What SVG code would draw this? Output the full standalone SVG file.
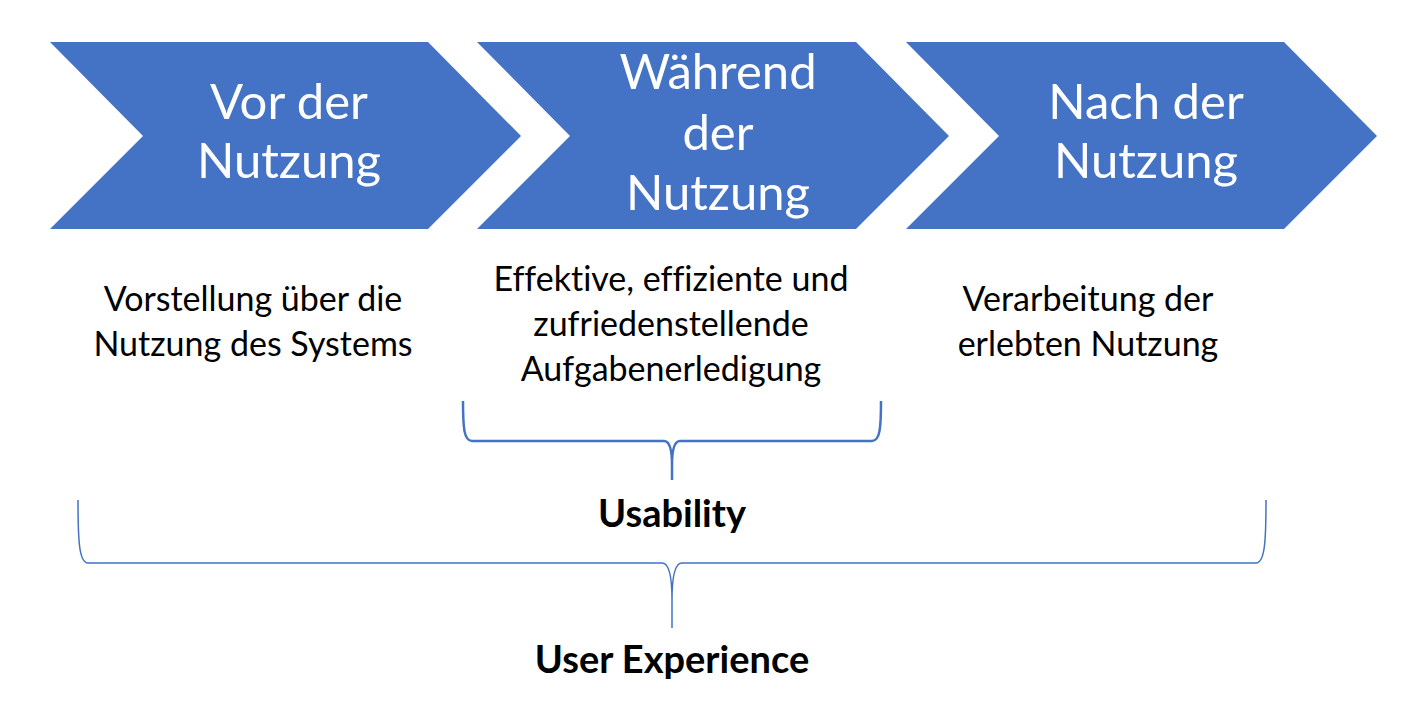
<svg xmlns="http://www.w3.org/2000/svg" width="1426" height="714" viewBox="0 0 1426 714">
<style>
.chev{fill:#4472C4;}
text{font-variant-ligatures:none;font-feature-settings:"liga" 0,"dlig" 0;}
.big{font-family:Lato,"Liberation Sans",sans-serif;font-size:49px;fill:#fff;text-anchor:middle;}
.small{font-family:Lato,"Liberation Sans",sans-serif;font-size:34px;fill:#000;text-anchor:middle;}
.bold{font-family:Lato,"Liberation Sans",sans-serif;font-size:38px;font-weight:bold;fill:#000;text-anchor:middle;}
.brace{fill:none;stroke:#4472C4;stroke-linejoin:round;}
</style>
<rect width="1426" height="714" fill="#fff"/>
<g id="vor">
<polygon class="chev" points="50,42 428,42 521,136 428,229 50,229 143,136"/>
<text class="big" x="289" y="119">Vor der</text>
<text class="big" x="289" y="178">Nutzung</text>
</g>
<g id="waehrend">
<polygon class="chev" points="477,42 856,42 949,136 856,229 477,229 570,136"/>
<text class="big" x="718" y="89">Während</text>
<text class="big" x="718" y="150">der</text>
<text class="big" x="718" y="210">Nutzung</text>
</g>
<g id="nach">
<polygon class="chev" points="906,42 1284,42 1377,136 1284,229 906,229 999,136"/>
<text class="big" x="1146" y="119">Nach der</text>
<text class="big" x="1146" y="178">Nutzung</text>
</g>
<g id="desc-vor">
<text class="small" x="253" y="311">Vorstellung über die</text>
<text class="small" x="253" y="356">Nutzung des Systems</text>
</g>
<g id="desc-waehrend">
<text class="small" x="671" y="291">Effektive, effiziente und</text>
<text class="small" x="671" y="336">zufriedenstellende</text>
<text class="small" x="671" y="381">Aufgabenerledigung</text>
</g>
<g id="desc-nach">
<text class="small" x="1088" y="311">Verarbeitung der</text>
<text class="small" x="1088" y="356">erlebten Nutzung</text>
</g>
<g id="connectors">
<path class="brace" stroke-width="2.5" d="M463,401 C463,428 464,441 472,441 L664,441 C670,441 672,450 672,465 L672,480 M672,465 C672,450 674,441 680,441 L872,441 C880,441 881,428 881,401"/>
<path class="brace" stroke-width="1.5" d="M78,500 C78,540 79,563 88,563 L662,563 C669,563 672,575 672,600 L672,628 M672,600 C672,575 675,563 682,563 L1256,563 C1265,563 1266,540 1266,500"/>
</g>
<g id="usability">
<text class="bold" x="672" y="527">Usability</text>
</g>
<g id="ux">
<text class="bold" x="672" y="673">User Experience</text>
</g>
</svg>
